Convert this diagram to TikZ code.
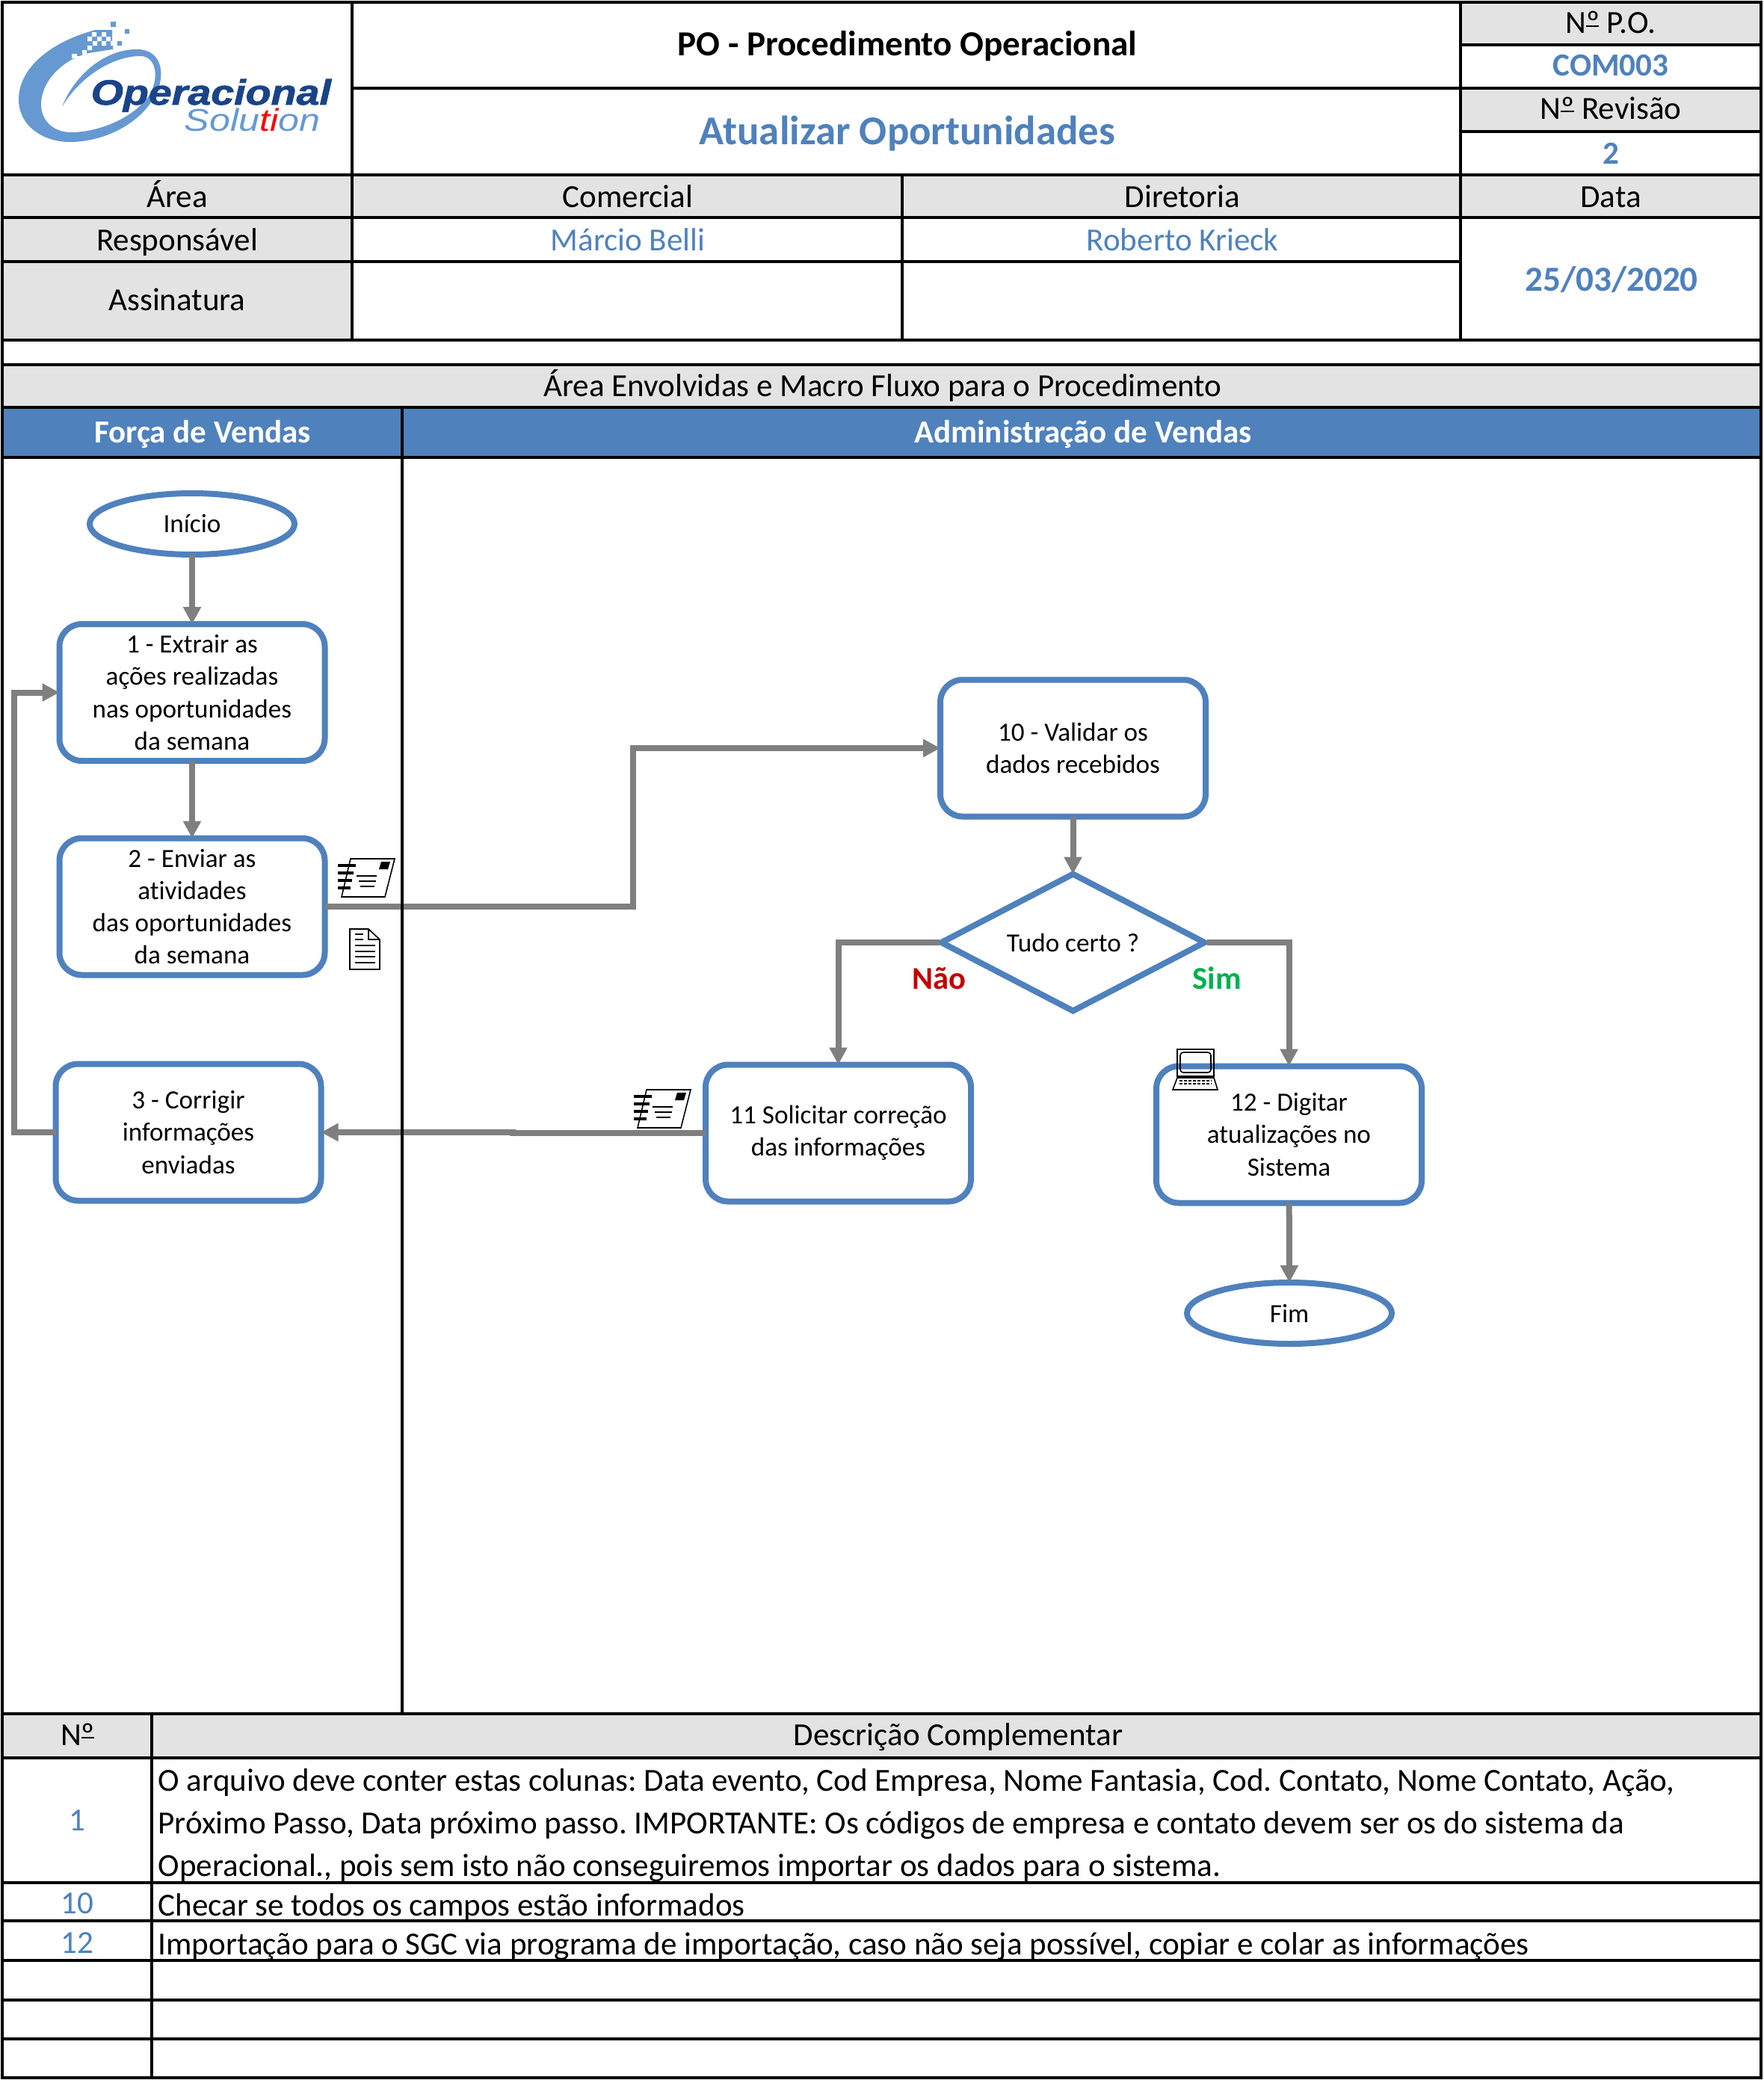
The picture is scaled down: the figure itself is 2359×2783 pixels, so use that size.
\documentclass[tikz,border=0pt]{standalone}
\usepackage{fontspec}
\setmainfont{Carlito}[Ligatures=NoCommon]
\newfontfamily\logofont{Liberation Sans}[BoldItalicFeatures={FakeBold=1.6}]
\usetikzlibrary{arrows.meta,shapes.geometric}
\definecolor{flow_blue}{HTML}{4F81BD}
\definecolor{flow_grey}{HTML}{7F7F7F}
\definecolor{cell_grey}{HTML}{E3E3E3}
\definecolor{logo_blue}{HTML}{6699D2}
\definecolor{logo_dark}{HTML}{1A4488}
\definecolor{no_red}{HTML}{C00000}
\definecolor{yes_green}{HTML}{00B050}
\newcommand{\numero}{N\rlap{\rule[0.2em]{0.4em}{0.05em}}º}
\tikzset{
    envelope_icon/.pic={
        \draw[line width=0.16mm, fill=white] (0,0) -- (12,-51) -- (71,-51) -- (58,0) -- cycle;
        \fill[black] (53,-47) -- (65,-47) -- (62,-37) -- (50,-37) -- cycle;
        \draw[line width=0.35mm] (-5,-42) -- (19,-42) (-5,-32) -- (16,-32) (-5,-22) -- (14,-22) (-5,-12) -- (12,-12);
        \draw[line width=0.25mm] (20,-28) -- (47,-28) (23,-21) -- (46,-21) (25,-14) -- (44,-14);
    }
}
\begin{document}
\frenchspacing
\begin{tikzpicture}[x=0.1mm, y=-0.1mm]
        \tikzstyle{grid_line} = [black, line width=0.4mm]
        \tikzstyle{cell_text} = [inner sep=0, anchor=base, font=\fontsize{12.25pt}{15pt}\selectfont]
        \tikzstyle{cell_blue} = [cell_text, text=flow_blue]
        \tikzstyle{cell_bold} = [cell_blue, font=\fontsize{12.25pt}{15pt}\selectfont\bfseries]
        \tikzstyle{cell_left} = [cell_text, anchor=base west]
        \tikzstyle{band_text} = [cell_text, text=white, font=\fontsize{12.25pt}{15pt}\selectfont\bfseries]
        \tikzstyle{box_style} = [draw=flow_blue, line width=0.8mm, rounded corners=3mm, fill=white, align=center, outer sep=0,
            minimum width=35.5mm, minimum height=18.3mm, inner sep=0, font=\fontsize{10pt}{12.3pt}\selectfont]
        \tikzstyle{end_style} = [box_style, ellipse, minimum width=27.4mm, minimum height=8.2mm]
        \tikzstyle{test_style} = [box_style, diamond, sharp corners, shape aspect=1.92, minimum width=35.2mm, minimum height=18.3mm]
        \tikzstyle{arrow_style1} = [->, flow_grey, line width=0.8mm, >={Triangle[length=2.3mm, width=2.3mm]}]
        \tikzstyle{branch_text} = [inner sep=0, anchor=base, font=\fontsize{12.1pt}{15pt}\selectfont\bfseries]

        \useasboundingbox (0,0) rectangle (2359,2783);

        % Grey and blue cells first
        \fill[cell_grey] (1954,3) rectangle (2356,60);
        \fill[cell_grey] (1954,118) rectangle (2356,176);
        \fill[cell_grey] (3,234) rectangle (2356,291);
        \fill[cell_grey] (3,291) rectangle (471,455);
        \fill[cell_grey] (3,488) rectangle (2356,545);
        \fill[flow_blue] (3,545) rectangle (2356,612);
        \fill[cell_grey] (3,2293) rectangle (2356,2352);

        % Then the logo
        \fill[logo_blue] (128,40) .. controls (70,55) and (25,90) .. (25,133)
            .. controls (25,170) and (60,190) .. (93,190)
            .. controls (140,190) and (185,165) .. (203,135)
            .. controls (222,110) and (222,66) .. (183,66)
            .. controls (140,66) and (100,100) .. (83,143)
            .. controls (105,105) and (150,74) .. (190,75)
            .. controls (212,78) and (212,110) .. (198,130)
            .. controls (175,160) and (130,177) .. (95,177)
            .. controls (70,177) and (55,160) .. (55,140)
            .. controls (55,105) and (90,75) .. (125,70) -- (150,66) -- (150,40) -- cycle;
        \fill[logo_blue] (148,29) rectangle ++(7,7) (167,39) rectangle ++(6,6) (157,55) rectangle ++(6,6)
            (96,72) rectangle ++(7,6) (145,60) rectangle ++(6,6);
        \fill[white] (96,72) rectangle ++(7,6) (110,67) rectangle ++(6,6) (117,61) rectangle ++(6,6)
            (117,49) rectangle ++(6,6) (123,43) rectangle ++(6,6) (130,49) rectangle ++(6,6)
            (136,43) rectangle ++(6,6) (136,55) rectangle ++(6,6) (142,49) rectangle ++(6,6)
            (148,55) rectangle ++(6,6) (124,55) rectangle ++(6,6) (103,75) rectangle ++(6,6);
        \node[inner sep=0, anchor=base west, text=logo_dark] (logo_name) at (121,140)
            {\scalebox{1.18}[1]{\logofont\fontsize{13.4pt}{16pt}\selectfont\bfseries\itshape Operacional}};
        \node[inner sep=0, anchor=base west, text=logo_blue] (logo_sub) at (246,175)
            {\scalebox{1.19}[1]{\logofont\fontsize{12pt}{14pt}\selectfont\itshape Solu\textcolor{red}{ti}on}};

        % This is the head of the sheet
        \node[cell_text, font=\fontsize{13.4pt}{16pt}\selectfont\bfseries] (t_title) at (1214,74) {PO - Procedimento Operacional};
        \node[cell_bold, font=\fontsize{15.6pt}{19pt}\selectfont\bfseries] (t_name) at (1214,193) {Atualizar Oportunidades};
        \node[cell_text] (t_po) at (2155,45) {\numero{} P.O.};
        \node[cell_bold] (t_code) at (2155,101) {COM003};
        \node[cell_text] (t_rev) at (2155,159) {\numero{} Revisão};
        \node[cell_bold] (t_num) at (2155,219) {2};
        \node[cell_text] (t_area) at (237,277) {Área};
        \node[cell_text] (t_com) at (840,277) {Comercial};
        \node[cell_text] (t_dir) at (1582,277) {Diretoria};
        \node[cell_text] (t_data) at (2155,277) {Data};
        \node[cell_text] (t_resp) at (237,335) {Responsável};
        \node[cell_blue] (t_belli) at (840,335) {Márcio Belli};
        \node[cell_blue] (t_krieck) at (1582,335) {Roberto Krieck};
        \node[cell_text] (t_sign) at (237,415) {Assinatura};
        \node[cell_bold, font=\fontsize{13.4pt}{16pt}\selectfont\bfseries] (t_date) at (2156,389) {25/03/2020};
        \node[cell_text] (t_macro) at (1181,530) {Área Envolvidas e Macro Fluxo para o Procedimento};
        \node[band_text] (t_sales) at (271,592) {Força de Vendas};
        \node[band_text] (t_admin) at (1449,592) {Administração de Vendas};

        % Then the flow
        \node[end_style] (n_start) at (257,701) {Início};
        \node[box_style] (n1) at (257,926.5) {1 - Extrair as\\ações realizadas\\nas oportunidades\\da semana};
        \node[box_style] (n2) at (257,1213) {2 - Enviar as\\atividades\\das oportunidades\\da semana};
        \node[box_style] (n3) at (252,1515) {3 - Corrigir\\informações\\enviadas};
        \node[box_style] (n10) at (1435.5,1001) {10 - Validar os\\dados recebidos};
        \node[test_style] (n_test) at (1435.5,1261) {Tudo certo ?};
        \node[box_style] (n11) at (1121.5,1516) {11 Solicitar correção\\das informações};
        \node[box_style] (n12) at (1724.5,1518) {12 - Digitar\\atualizações no\\Sistema};
        \node[end_style] (n_end) at (1725,1757) {Fim};
        \coordinate (c_up) at (847,1100);
        \coordinate (c_back) at (19,1200);
        \coordinate (c_jog) at (686,1516);

        \draw[arrow_style1] (n_start) -- (n1);
        \draw[arrow_style1] (n1) -- (n2);
        \draw[arrow_style1] (n2.east) -| (c_up) |- (n10.west);
        \draw[arrow_style1] (n10) -- (n_test);
        \draw[arrow_style1, shorten <=0.3mm] (n_test.west) -| (n11.north);
        \draw[arrow_style1, shorten <=0.3mm] (n_test.east) -| (n12.north);
        \draw[arrow_style1] (n11.west) -| (c_jog) |- (n3.east);
        \draw[arrow_style1] (n3.west) -| (c_back) |- (n1.west);
        \draw[arrow_style1] (n12) -- (n_end);

        \node[branch_text, text=no_red] (t_no) at (1256,1323) {Não};
        \node[branch_text, text=yes_green] (t_yes) at (1628,1323) {Sim};

        % Small icons beside the boxes
        \pic at (457,1200) {envelope_icon};
        \pic at (853,1509) {envelope_icon};
        \draw[line width=0.17mm] (468,1243) -- (493,1243) -- (508,1257) -- (508,1297) -- (468,1297) -- cycle
            (493,1243) -- (493,1257) -- (508,1257);
        \draw[line width=0.15mm] (475,1250) -- (486,1250) (475,1257) -- (486,1257) (475,1265) -- (502,1265)
            (475,1273) -- (502,1273) (475,1280) -- (502,1280) (475,1288) -- (502,1288);
        \draw[line width=0.16mm] (1575,1404) rectangle (1624,1440);
        \draw[line width=0.16mm, rounded corners=0.4mm] (1579,1408) rectangle (1620,1435);
        \draw[line width=0.16mm] (1575,1442) -- (1624,1442) -- (1629,1458) -- (1569,1458) -- cycle;
        \draw[line width=0.12mm, dash pattern=on 0.4mm off 0.2mm] (1578,1446) -- (1621,1446) (1578,1450) -- (1621,1450);

        % The grid goes over everything
        \draw[grid_line] (3,3) rectangle (2356,2780);
        \draw[grid_line] (471,3) -- (471,455);
        \draw[grid_line] (1954,3) -- (1954,455);
        \draw[grid_line] (1207,234) -- (1207,455);
        \draw[grid_line] (538,545) -- (538,2293);
        \draw[grid_line] (203,2293) -- (203,2780);
        \draw[grid_line] (471,118) -- (1954,118);
        \draw[grid_line] (1954,60) -- (2356,60);
        \draw[grid_line] (1954,118) -- (2356,118);
        \draw[grid_line] (1954,176) -- (2356,176);
        \draw[grid_line] (3,234) -- (2356,234);
        \draw[grid_line] (3,291) -- (2356,291);
        \draw[grid_line] (3,350) -- (1954,350);
        \draw[grid_line] (3,455) -- (2356,455);
        \draw[grid_line] (3,488) -- (2356,488);
        \draw[grid_line] (3,545) -- (2356,545);
        \draw[grid_line] (3,612) -- (2356,612);
        \draw[grid_line] (3,2293) -- (2356,2293);
        \draw[grid_line] (3,2352) -- (2356,2352);
        \draw[grid_line] (3,2519) -- (2356,2519);
        \draw[grid_line] (3,2570) -- (2356,2570);
        \draw[grid_line] (3,2623) -- (2356,2623);
        \draw[grid_line] (3,2676) -- (2356,2676);
        \draw[grid_line] (3,2728) -- (2356,2728);

        % And the table at the bottom
        \node[cell_text] (t_no_head) at (104,2335) {\numero};
        \node[cell_text] (t_desc_head) at (1282,2335) {Descrição Complementar};
        \node[cell_blue] (t_row1) at (103,2449) {1};
        \node[cell_left] (t_d1a) at (211,2396) {O arquivo deve conter estas colunas: Data evento, Cod Empresa, Nome Fantasia, Cod. Contato, Nome Contato, Ação,};
        \node[cell_left] (t_d1b) at (211,2453) {Próximo Passo, Data próximo passo. IMPORTANTE: Os códigos de empresa e contato devem ser os do sistema da};
        \node[cell_left] (t_d1c) at (211,2510) {Operacional., pois sem isto não conseguiremos importar os dados para o sistema.};
        \node[cell_blue] (t_row10) at (103,2560) {10};
        \node[cell_left] (t_d10) at (211,2563) {Checar se todos os campos estão informados};
        \node[cell_blue] (t_row12) at (103,2613) {12};
        \node[cell_left] (t_d12) at (211,2615) {Importação para o SGC via programa de importação, caso não seja possível, copiar e colar as informações};
    \end{tikzpicture}
\end{document}
